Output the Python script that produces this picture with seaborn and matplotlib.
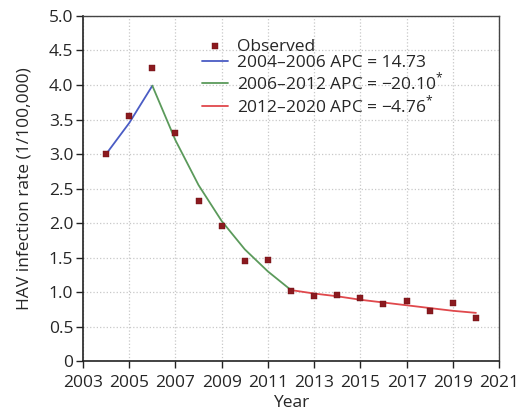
import numpy as np
import pandas as pd
import matplotlib
matplotlib.use("Agg")
import matplotlib.pyplot as plt
import seaborn as sns

# observed HAV incidence per 100,000
years = [2004, 2005, 2006, 2007, 2008, 2009, 2010, 2011, 2012,
         2013, 2014, 2015, 2016, 2017, 2018, 2019, 2020]
observed = [3.00, 3.55, 4.25, 3.30, 2.32, 1.96, 1.45, 1.47, 1.02,
            0.95, 0.96, 0.91, 0.83, 0.87, 0.72, 0.84, 0.62]

# joinpoint fitted segments
seg1_years = [2004, 2005, 2006]
seg1_fit = [3.00, 3.45, 3.99]
seg2_years = [2006, 2007, 2008, 2009, 2010, 2011, 2012]
seg2_fit = [3.99, 3.20, 2.55, 2.03, 1.62, 1.30, 1.03]
seg3_years = [2012, 2013, 2014, 2015, 2016, 2017, 2018, 2019, 2020]
seg3_fit = [1.03, 0.98, 0.94, 0.89, 0.85, 0.81, 0.77, 0.73, 0.70]

labels = ["2004\u20132006 APC = 14.73",
          "2006\u20132012 APC = \u221220.10$^{*}$",
          "2012\u20132020 APC = \u22124.76$^{*}$"]
colors = ["#4a5cc4", "#5b9a5b", "#e0484c"]

sns.set_style("white")
plt.rcParams['font.family'] = ['Open Sans', 'DejaVu Sans']
plt.rcParams['mathtext.fontset'] = 'custom'
plt.rcParams['mathtext.rm'] = 'Open Sans'

fig = plt.figure(figsize=(5.22, 4.2), dpi=100)
ax = fig.add_axes([0.159, 0.140, 0.797, 0.822])

obs_df = pd.DataFrame({"Year": years, "Rate": observed})
sns.scatterplot(data=obs_df, x="Year", y="Rate", marker="s", s=22,
                color="#8b1a1f", edgecolor="#6a1015", linewidth=0.3,
                label="Observed", zorder=4, ax=ax)

for yrs, fit, lab, c in zip([seg1_years, seg2_years, seg3_years],
                            [seg1_fit, seg2_fit, seg3_fit], labels, colors):
    df = pd.DataFrame({"Year": yrs, "Rate": fit})
    sns.lineplot(data=df, x="Year", y="Rate", color=c, linewidth=1.3,
                 label=lab, zorder=3, ax=ax)

ax.set_xlim(2003, 2021)
ax.set_ylim(0, 5)
ax.set_xticks(np.arange(2003, 2022, 2))
ax.set_yticks(np.arange(0, 5.01, 0.5))
ax.set_yticklabels(["0"] + [f"{v:.1f}" for v in np.arange(0.5, 5.01, 0.5)])
ax.grid(True, color="#c8c8c8", linestyle=":", linewidth=0.9)
ax.tick_params(axis="both", labelsize=12.5, length=5, width=1, direction="out",
               bottom=True, left=True, color="#222222", pad=2)
ax.tick_params(axis="x", pad=5)
ax.set_xlabel("Year", fontsize=12.5, labelpad=3)
ax.set_ylabel("HAV infection rate (1/100,000)", fontsize=12.5, labelpad=12)

for side in ["left", "bottom"]:
    ax.spines[side].set_color("#222222")
    ax.spines[side].set_linewidth(1.2)
for side in ["top", "right"]:
    ax.spines[side].set_color("#444444")
    ax.spines[side].set_linewidth(1.0)

leg = ax.legend(loc="upper left", bbox_to_anchor=(0.27, 0.955), frameon=False,
                fontsize=12.5, handlelength=1.5, handletextpad=0.5,
                labelspacing=0.0, borderaxespad=0)

fig.savefig("out.png", dpi=100)
